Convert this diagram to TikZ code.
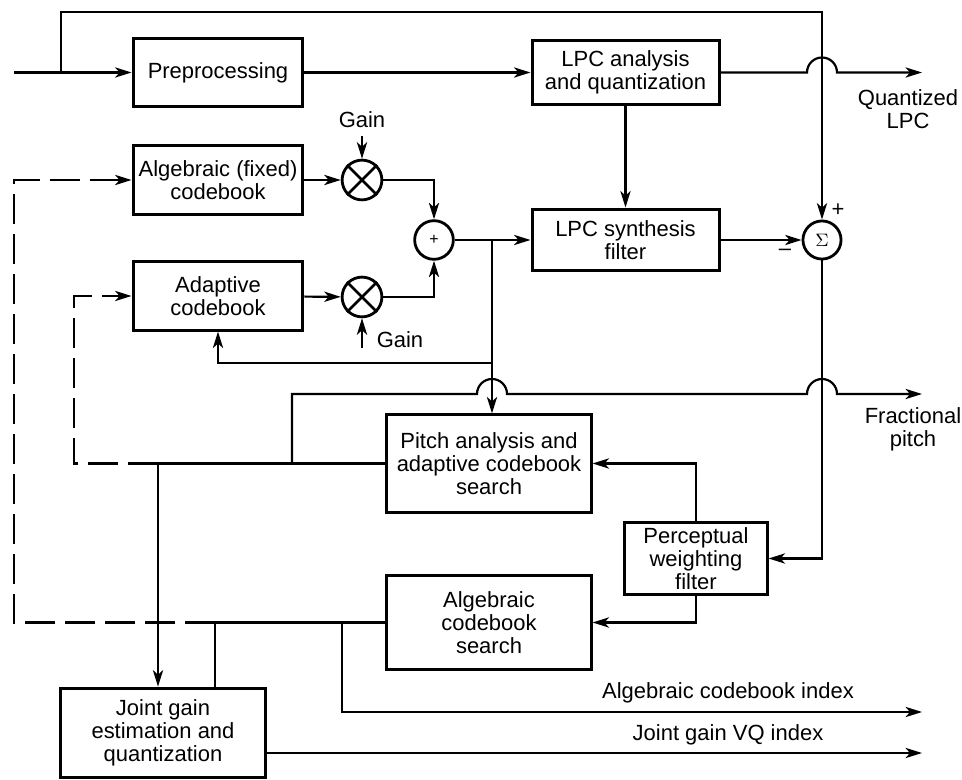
\documentclass[tikz,border=0pt]{standalone}
\usepackage{fontspec}
\setmainfont{Liberation Sans}
\usetikzlibrary{arrows.meta,calc}

\begin{document}
\begin{tikzpicture}[x=0.0176cm,y=-0.0176cm,
  font=\fontsize{11}{11.5}\selectfont,
  line width=1.1pt,
  >={Stealth[length=2.9mm,width=1.8mm,inset=0.8mm]},
  block/.style={draw,line width=1.5pt,align=center,inner sep=1pt},
  mixer/.style={draw,circle,line width=1.4pt,minimum size=0.7cm,inner sep=0pt},
  feedback/.style={dash pattern=on 15pt off 5pt}]
\useasboundingbox (0,0) rectangle (962,780);

\node[block,minimum width=2.99cm,minimum height=1.21cm] (prep) at (218,72.5) {Preprocessing};
\node[block,minimum width=3.29cm,minimum height=1.13cm] (lpcan) at (625.5,72.5) {LPC analysis\\and quantization};
\node[block,minimum width=2.99cm,minimum height=1.23cm] (fixcb) at (218,180) {Algebraic (fixed)\\codebook};
\node[block,minimum width=2.99cm,minimum height=1.20cm] (adpcb) at (218,296) {Adaptive\\codebook};
\node[block,minimum width=3.29cm,minimum height=1.09cm] (synth) at (625.5,240) {LPC synthesis\\filter};
\node[block,minimum width=3.59cm,minimum height=1.71cm] (pitch) at (489,463.5) {Pitch analysis and\\adaptive codebook\\search};
\node[block,minimum width=2.50cm,minimum height=1.28cm] (percw) at (696,558.5) {Perceptual\\weighting\\filter};
\node[block,minimum width=3.59cm,minimum height=1.67cm] (algsr) at (489,622.5) {Algebraic\\codebook\\search};
\node[block,minimum width=3.59cm,minimum height=1.58cm] (jgain) at (163,733) {Joint gain\\estimation and\\quantization};

\node[mixer] (mul1) at (362,180) {};
\node[mixer] (mul2) at (362,297) {};
\foreach \m in {mul1,mul2}
  \draw[line width=1.4pt] (\m.45) -- (\m.225) (\m.135) -- (\m.315);
\node[mixer,minimum size=0.68cm] (add) at (434,240) {\footnotesize +};
\node[mixer,minimum size=0.67cm] (sig) at (822,240) {\fontsize{9}{9}\selectfont$\Sigma$};

\coordinate (in) at (14,72.5);
\coordinate (tap) at (61,72.5);
\coordinate (topl) at (61,12);
\coordinate (qlpc) at (922,72.5);
\coordinate (fpit) at (922,394);
\coordinate (aidx) at (922,712);
\coordinate (gidx) at (922,753);
\coordinate (sj) at (492,240);
\coordinate (aj) at (492,363);
\coordinate (pj) at (292,463.5);
\coordinate (pk) at (158,463.5);
\coordinate (pd) at (74,463.5);
\coordinate (cj) at (342,622.5);
\coordinate (ck) at (215,622.5);
\coordinate (cd) at (14,622.5);
\coordinate (g2) at (362,348);

\draw[->] (in) -- (prep);
\draw[->] (tap) -- (topl) -| (sig);
\draw[->] (prep) -- (lpcan);
\draw[->] (lpcan) -- (807,72.5) arc[start angle=180,end angle=0,radius=0.264cm] -- (qlpc);
\draw[->] (lpcan) -- (synth);
\draw[->] (synth) -- (sig);
\draw[->] (sig) |- (percw);
\draw[->] (percw) |- (pitch);
\draw[->] (percw) |- (algsr);

\node (gain1) at (362,120) {Gain};
\node[anchor=west] (gain2) at (369,340) {Gain};
\draw[->] (fixcb) -- (mul1);
\draw[->] (gain1) -- (mul1);
\draw[->] (adpcb) -- (mul2);
\draw[->] (g2) -- (mul2);
\draw[->] (mul1) -| (add);
\draw[->] (mul2) -| (add);
\draw[->] (add) -- (synth);
\draw[->] (sj) -- (sj |- pitch.north);
\draw[->] (aj) -| (adpcb);

\draw (pitch) -- (pk);
\draw[->] (pj) |- (477,394) arc[start angle=180,end angle=0,radius=0.264cm] -- (807,394)
  arc[start angle=180,end angle=0,radius=0.264cm] -- (fpit);
\draw[->] (pk) -- (pk |- jgain.north);
\draw[->,feedback] (pk) -- (pd) |- (adpcb);

\draw (algsr) -- (ck);
\draw (ck) -- (ck |- jgain.north);
\draw[->] (cj) |- (aidx);
\draw[->,feedback] (ck) -- (cd) |- (fixcb);
\draw[->] (jgain.east |- gidx) -- (gidx);

\node (plus) at (838,210) {+};
\node (minus) at (785,252) {–};
\node[align=center] (qlab) at (908,109) {Quantized\\LPC};
\node[align=center] (flab) at (913,429) {Fractional\\pitch};
\node (alab) at (728,693) {Algebraic codebook index};
\node (glab) at (728,735) {Joint gain VQ index};
\end{tikzpicture}
\end{document}
